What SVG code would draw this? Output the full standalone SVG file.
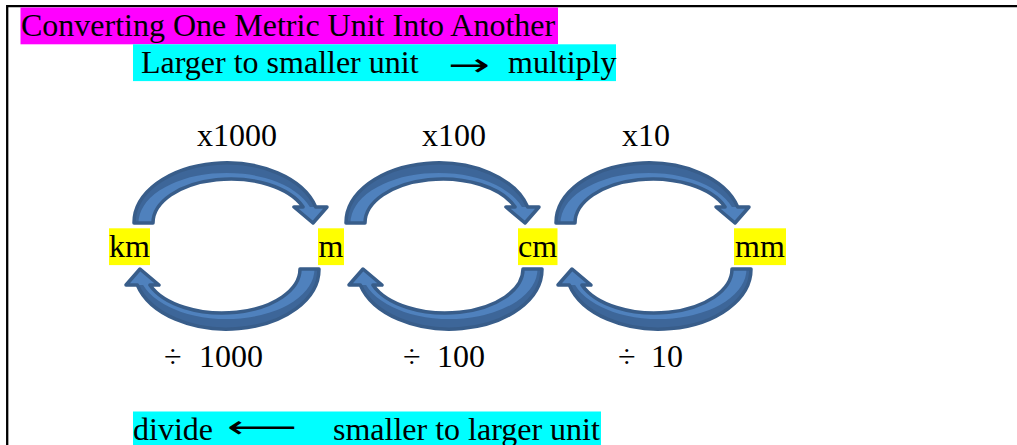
<svg xmlns="http://www.w3.org/2000/svg" xmlns:xlink="http://www.w3.org/1999/xlink" width="1017" height="445" viewBox="0 0 1017 445">
<style>
  text { font-family: "Liberation Serif", "Times New Roman", serif; font-size: 32px; fill: #000; }
  .sym { font-family: "DejaVu Sans", "Liberation Serif", sans-serif; }
  .mag { fill: #FF00FF; }
  .cya { fill: #00FFFF; }
  .yel { fill: #FFFF00; }
  .afill { fill: #4F81BD; stroke: none; }
  .ashade { fill: #3D6699; stroke: none; }
  .aedge { fill: none; stroke: #385D8A; stroke-width: 3.5; stroke-linejoin: round; }
</style>
<defs>
  <path id="arc" d="M 134 223 A 92.5 60 0 0 1 315.7 207 L 327 207 L 313 223 L 294 207 L 303.1 207 A 77.7 44 0 0 0 153 223 Z"/>
  <path id="shade" d="M 134 223 A 92.5 60 0 0 1 315.7 207 L 309.9 207 A 88 50 0 0 0 138.5 223 Z"/>
</defs>
<rect width="1017" height="445" fill="#FFFFFF"/>
<path d="M 7.2 445 V 6.2 H 1017" fill="none" stroke="#000" stroke-width="2.3"/>

<g id="title">
  <rect class="mag" x="20.5" y="7.5" width="537.5" height="36.8"/>
  <text x="21" y="36">Converting One Metric Unit Into Another</text>
</g>
<g id="rule-multiply">
  <rect class="cya" x="133" y="44.3" width="483" height="36.8"/>
  <text x="141" y="72.8">Larger to smaller unit</text>
  <text class="sym" x="448" y="75.5" textLength="42" lengthAdjust="spacingAndGlyphs">→</text>
  <text x="508" y="72.8">multiply</text>
</g>
<g id="rule-divide">
  <rect class="cya" x="133" y="411.5" width="468" height="36.8"/>
  <text x="133" y="440">divide</text>
  <text class="sym" x="227" y="438" textLength="70" lengthAdjust="spacingAndGlyphs">⟵</text>
  <text x="333" y="440">smaller to larger unit</text>
</g>

<g id="connectors">
  <g id="arrow-km-m"><use xlink:href="#arc" class="afill"/><use xlink:href="#shade" class="ashade"/><use xlink:href="#arc" class="aedge"/></g>
  <g id="arrow-m-cm" transform="translate(212,0)"><use xlink:href="#arc" class="afill"/><use xlink:href="#shade" class="ashade"/><use xlink:href="#arc" class="aedge"/></g>
  <g id="arrow-cm-mm" transform="translate(422,0)"><use xlink:href="#arc" class="afill"/><use xlink:href="#shade" class="ashade"/><use xlink:href="#arc" class="aedge"/></g>
  <g id="arrow-m-km" transform="rotate(180 226.5 246)"><use xlink:href="#arc" class="afill"/><use xlink:href="#shade" class="ashade"/><use xlink:href="#arc" class="aedge"/></g>
  <g id="arrow-cm-m" transform="translate(223,0) rotate(180 226.5 246)"><use xlink:href="#arc" class="afill"/><use xlink:href="#shade" class="ashade"/><use xlink:href="#arc" class="aedge"/></g>
  <g id="arrow-mm-cm" transform="translate(432,0) rotate(180 226.5 246)"><use xlink:href="#arc" class="afill"/><use xlink:href="#shade" class="ashade"/><use xlink:href="#arc" class="aedge"/></g>
  <text x="197" y="146.4">x1000</text>
  <text x="422" y="146.4">x100</text>
  <text x="622" y="146.4">x10</text>
  <text y="367.2"><tspan x="164">÷</tspan><tspan x="199">1000</tspan></text>
  <text y="367.2"><tspan x="403">÷</tspan><tspan x="437">100</tspan></text>
  <text y="367.2"><tspan x="618">÷</tspan><tspan x="651">10</tspan></text>
</g>

<g id="node-km">
  <rect class="yel" x="109" y="228.3" width="41" height="36.8"/>
  <text x="109" y="256.5">km</text>
</g>
<g id="node-m">
  <rect class="yel" x="318" y="228.3" width="26" height="36.8"/>
  <text x="318.5" y="256.5">m</text>
</g>
<g id="node-cm">
  <rect class="yel" x="518" y="228.3" width="39.5" height="36.8"/>
  <text x="518" y="256.5">cm</text>
</g>
<g id="node-mm">
  <rect class="yel" x="734" y="228.3" width="52" height="36.8"/>
  <text x="735" y="256.5">mm</text>
</g>
</svg>
